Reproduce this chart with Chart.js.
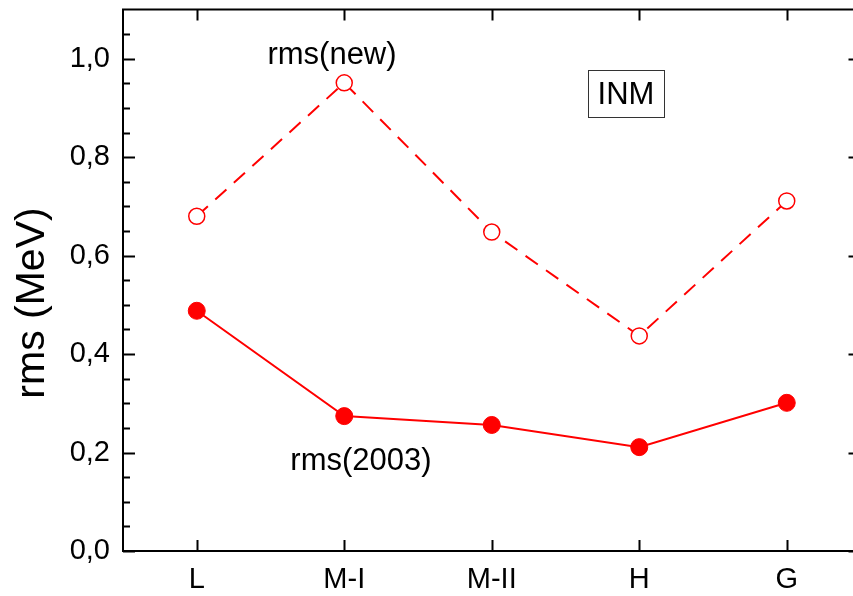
<!DOCTYPE html>
<html>
<head>
<meta charset="utf-8">
<script src="https://cdn.jsdelivr.net/npm/chart.js@4.4.1/dist/chart.umd.min.js"></script>
<style>
    html, body { margin: 0; padding: 0; background: #fff; overflow: hidden; }
    #wrap { width: 870px; height: 596px; }
</style>
</head>
<body>
<div id="wrap"><canvas id="grafico"></canvas></div>
<script>
// Dados
const modelos = ["L", "M-I", "M-II", "H", "G"];
const rmsNovo = [0.680, 0.951, 0.648, 0.437, 0.711];
const rms2003 = [0.488, 0.274, 0.256, 0.211, 0.301];
const ticksY = [0, 0.2, 0.4, 0.6, 0.8, 1.0];
const minorY = [0.05, 0.1, 0.15, 0.25, 0.3, 0.35, 0.45, 0.5, 0.55, 0.65, 0.7, 0.75, 0.85, 0.9, 0.95, 1.05];

const vermelho = "#ff0000";
const fonte = "'Liberation Sans', Arial, sans-serif";

// Moldura com ticks para dentro + textos
const moldura = {
    id: "moldura",
    afterDatasetsDraw(chart) {
        const { ctx, chartArea: a, scales: { x, y } } = chart;
        ctx.save();
        ctx.strokeStyle = "#000";
        ctx.lineWidth = 2;
        ctx.strokeRect(a.left, a.top, a.right - a.left, a.bottom - a.top);

        ctx.beginPath();
        ticksY.forEach(v => {
            const py = Math.round(y.getPixelForValue(v)) + 0.5;
            ctx.moveTo(a.left, py); ctx.lineTo(a.left + 12, py);
            ctx.moveTo(a.right, py); ctx.lineTo(a.right - 12, py);
        });
        minorY.forEach(v => {
            const py = Math.round(y.getPixelForValue(v)) + 0.5;
            ctx.moveTo(a.left, py); ctx.lineTo(a.left + 7, py);
            ctx.moveTo(a.right, py); ctx.lineTo(a.right - 7, py);
        });
        modelos.forEach((m, i) => {
            const px = Math.round(x.getPixelForValue(i)) + 0.5;
            ctx.moveTo(px, a.bottom); ctx.lineTo(px, a.bottom - 11);
            ctx.moveTo(px, a.top); ctx.lineTo(px, a.top + 11);
        });
        ctx.stroke();

        // Título do eixo Y
        ctx.fillStyle = "#000";
        ctx.save();
        ctx.translate(33, 303);
        ctx.rotate(-Math.PI / 2);
        ctx.font = "41px " + fonte;
        ctx.textAlign = "center";
        ctx.textBaseline = "middle";
        ctx.fillText("rms (MeV)", 0, 0);
        ctx.restore();

        // Rótulos das séries
        ctx.font = "31px " + fonte;
        ctx.textAlign = "center";
        ctx.textBaseline = "middle";
        ctx.fillText("rms(new)", 332, 55);
        ctx.fillText("rms(2003)", 361, 461);

        // Caixa INM
        ctx.lineWidth = 1;
        ctx.strokeStyle = "#333";
        ctx.strokeRect(588.5, 70.5, 76, 47);
        ctx.fillText("INM", 626, 95);
        ctx.restore();
    }
};

new Chart(document.getElementById("grafico").getContext("2d"), {
    type: "line",
    data: {
        labels: modelos,
        datasets: [
            {
                label: "rms(new)",
                data: rmsNovo,
                borderColor: vermelho,
                borderWidth: 2,
                borderDash: [15, 10],
                pointRadius: 8,
                pointBorderWidth: 1.5,
                pointBackgroundColor: "#fff",
                pointBorderColor: vermelho,
                tension: 0
            },
            {
                label: "rms(2003)",
                data: rms2003,
                borderColor: vermelho,
                borderWidth: 2,
                pointRadius: 8.5,
                pointBorderWidth: 1,
                pointBackgroundColor: vermelho,
                pointBorderColor: vermelho,
                tension: 0
            }
        ]
    },
    options: {
        responsive: true,
        maintainAspectRatio: false,
        animation: false,
        layout: { padding: { top: 9, right: 8, left: 0, bottom: 0 } },
        plugins: {
            legend: { display: false },
            tooltip: { enabled: false }
        },
        scales: {
            x: {
                offset: true,
                grid: { display: false, drawTicks: false },
                border: { display: false },
                ticks: {
                    color: "#000",
                    font: { family: fonte, size: 29 },
                    padding: 12
                },
                afterFit(scale) {
                    scale.height = 45;
                    scale.paddingLeft = 0;
                    scale.paddingRight = 0;
                }
            },
            y: {
                min: 0,
                max: 1.1,
                grid: { display: false, drawTicks: false },
                border: { display: false },
                afterBuildTicks(scale) { scale.ticks = ticksY.map(v => ({ value: v })); },
                ticks: {
                    color: "#000",
                    font: { family: fonte, size: 29 },
                    padding: 13,
                    callback: v => v.toFixed(1).replace(".", ",")
                },
                afterFit(scale) {
                    scale.width = 123;
                    scale.paddingTop = 0;
                    scale.paddingBottom = 0;
                }
            }
        }
    },
    plugins: [moldura]
});
</script>
</body>
</html>
